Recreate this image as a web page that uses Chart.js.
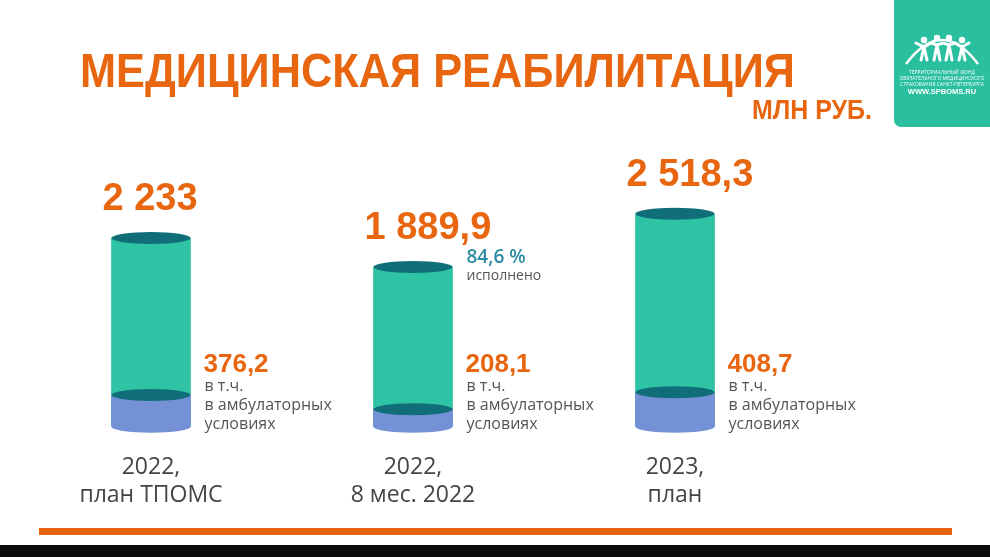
<!DOCTYPE html>
<html lang="ru">
<head>
<meta charset="utf-8">
<script src="https://cdn.jsdelivr.net/npm/chart.js@4.4.0/dist/chart.umd.min.js"></script>
<style>
  html, body { margin: 0; padding: 0; background: #fff; width: 990px; height: 557px; overflow: hidden; }
  body { position: relative; font-family: "Open Sans", sans-serif; }
  #chartWrap { position: absolute; left: 0; top: 0; width: 990px; height: 557px; }
  .fit { position: absolute; white-space: nowrap; transform-origin: left top; color: #e8660f;
         font-family: "Liberation Sans", Arial, sans-serif; font-weight: bold; line-height: 1; }
  #title { left: 80px; top: 46px; font-size: 49px; }
  #unit { left: 752px; top: 96px; font-size: 28px; }
  #logo { position: absolute; left: 894px; top: 0; width: 96px; height: 127px; background: #29bf9f;
          border-radius: 0 0 0 7px; color: #fff; text-align: center; }
  #logo svg { position: absolute; left: 0; top: 24px; }
  #logo .small { position: absolute; left: 0; width: 96px; font-size: 4.8px; line-height: 6px; letter-spacing: 0.1px; }
  #logo .site { position: absolute; left: 0; width: 96px; top: 87px; font-size: 7.5px; font-weight: bold; font-family: "Liberation Sans", Arial, sans-serif; }
  #rule { position: absolute; left: 39px; top: 528px; width: 913px; height: 7px; background: #e8650c; }
  #strip { position: absolute; left: 0; top: 545px; width: 990px; height: 12px; background: #0c0c0c; }
</style>
</head>
<body>
<div id="chartWrap"><canvas id="cylChart"></canvas></div>
<div id="title" class="fit">МЕДИЦИНСКАЯ РЕАБИЛИТАЦИЯ</div>
<div id="unit" class="fit">МЛН РУБ.</div>
<div id="logo">
  <svg width="96" height="44" viewBox="0 0 96 44">
    <path d="M12 40 Q48 -8 84 40" fill="none" stroke="#fff" stroke-width="2.4"/>
    <g fill="#fff" stroke="#fff" stroke-width="3" stroke-linecap="round">
      <circle cx="30" cy="16" r="3.2" stroke="none"/>
      <circle cx="43" cy="14" r="3.2" stroke="none"/>
      <circle cx="55" cy="14" r="3.2" stroke="none"/>
      <circle cx="68" cy="16" r="3.2" stroke="none"/>
      <path d="M22 19 L30 23 L37 19 L43 21 L49 19 L55 21 L61 19 L68 23 L75 19" fill="none"/>
      <path d="M30 23 L27 36 M30 23 L33 36 M43 21 L40 36 M43 21 L46 36 M55 21 L52 36 M55 21 L58 36 M68 23 L65 36 M68 23 L71 36" fill="none"/>
    </g>
  </svg>
  <div class="small" style="top:69px">ТЕРРИТОРИАЛЬНЫЙ ФОНД</div>
  <div class="small" style="top:75px">ОБЯЗАТЕЛЬНОГО МЕДИЦИНСКОГО</div>
  <div class="small" style="top:81px">СТРАХОВАНИЯ САНКТ-ПЕТЕРБУРГА</div>
  <div class="site">WWW.SPBOMS.RU</div>
</div>
<div id="rule"></div>
<div id="strip"></div>

<script>
const categories = [['2022,', 'план ТПОМС'], ['2022,', '8 мес. 2022'], ['2023,', 'план']];
const totalValues = [2233, 1889.9, 2518.3];
const outpatientValues = [376.2, 208.1, 408.7];
const totalLabels = ['2 233', '1 889,9', '2 518,3'];
const outpatientLabels = ['376,2', '208,1', '408,7'];
const executedLabels = [null, '84,6 %', null];
const noteLines = ['в т.ч.', 'в амбулаторных', 'условиях'];

const TEAL = '#2fc3a5';
const DARK = '#0f6e77';
const BLUE = '#7491d6';
const ORANGE = '#e8660f';

function fitWidth(el, w) {
    const r = el.getBoundingClientRect().width;
    el.style.transform = 'scaleX(' + (w / r) + ')';
}
fitWidth(document.getElementById('title'), 715);
fitWidth(document.getElementById('unit'), 120);

function ellipse(ctx, x, y, rx, ry, color) {
    ctx.beginPath();
    ctx.ellipse(x, y, rx, ry, 0, 0, Math.PI * 2);
    ctx.fillStyle = color;
    ctx.fill();
}

const cylinderPlugin = {
    id: 'cylinders',
    afterDatasetsDraw(chart) {
        const ctx = chart.ctx;
        const totals = chart.getDatasetMeta(0).data;
        const parts = chart.getDatasetMeta(1).data;
        const ry = 6;
        ctx.save();
        totals.forEach((bar, i) => {
            const part = parts[i];
            const rx = bar.width / 2;
            ellipse(ctx, bar.x, bar.base, rx, ry, BLUE);
            ellipse(ctx, part.x, part.y, rx, ry, DARK);
            ellipse(ctx, bar.x, bar.y, rx, ry, DARK);

            // total value above the cylinder
            ctx.textBaseline = 'middle';
            ctx.textAlign = 'left';
            ctx.fillStyle = ORANGE;
            ctx.font = 'bold 38px "Liberation Sans", Arial, sans-serif';
            ctx.fillText(totalLabels[i], bar.x - rx - 9, bar.y - 38);

            const tx = bar.x + rx + 14;
            if (executedLabels[i]) {
                ctx.fillStyle = '#2a8ba2';
                ctx.font = '600 19px "Open Sans", sans-serif';
                ctx.fillText(executedLabels[i], tx, bar.y - 9);
                ctx.fillStyle = '#555';
                ctx.font = '14px "Open Sans", sans-serif';
                ctx.fillText('исполнено', tx, bar.y + 9);
            }

            ctx.fillStyle = ORANGE;
            ctx.font = 'bold 26px "Liberation Sans", Arial, sans-serif';
            ctx.fillText(outpatientLabels[i], tx - 1, bar.base - 62);
            ctx.fillStyle = '#555';
            ctx.font = '16px "Open Sans", sans-serif';
            noteLines.forEach((t, k) => ctx.fillText(t, tx, bar.base - 40 + k * 19));
        });
        ctx.restore();
    }
};

new Chart(document.getElementById('cylChart').getContext('2d'), {
    type: 'bar',
    data: {
        labels: categories,
        datasets: [
            { label: 'Всего', data: totalValues, backgroundColor: TEAL, grouped: false, order: 2, barThickness: 79 },
            { label: 'в т.ч. в амбулаторных условиях', data: outpatientValues, backgroundColor: BLUE, grouped: false, order: 1, barThickness: 79 }
        ]
    },
    options: {
        responsive: true,
        maintainAspectRatio: false,
        animation: false,
        layout: { padding: { left: 20, right: 184, top: 190, bottom: 21 } },
        plugins: { legend: { display: false }, tooltip: { enabled: false }, title: { display: false } },
        scales: {
            x: {
                grid: { display: false, drawTicks: false },
                border: { display: false },
                ticks: { font: { family: 'Open Sans', size: 23, lineHeight: 1.2 }, color: '#454545', padding: 27 }
            },
            y: { display: false, min: 0, max: 2800 }
        }
    },
    plugins: [cylinderPlugin]
});
</script>
</body>
</html>
